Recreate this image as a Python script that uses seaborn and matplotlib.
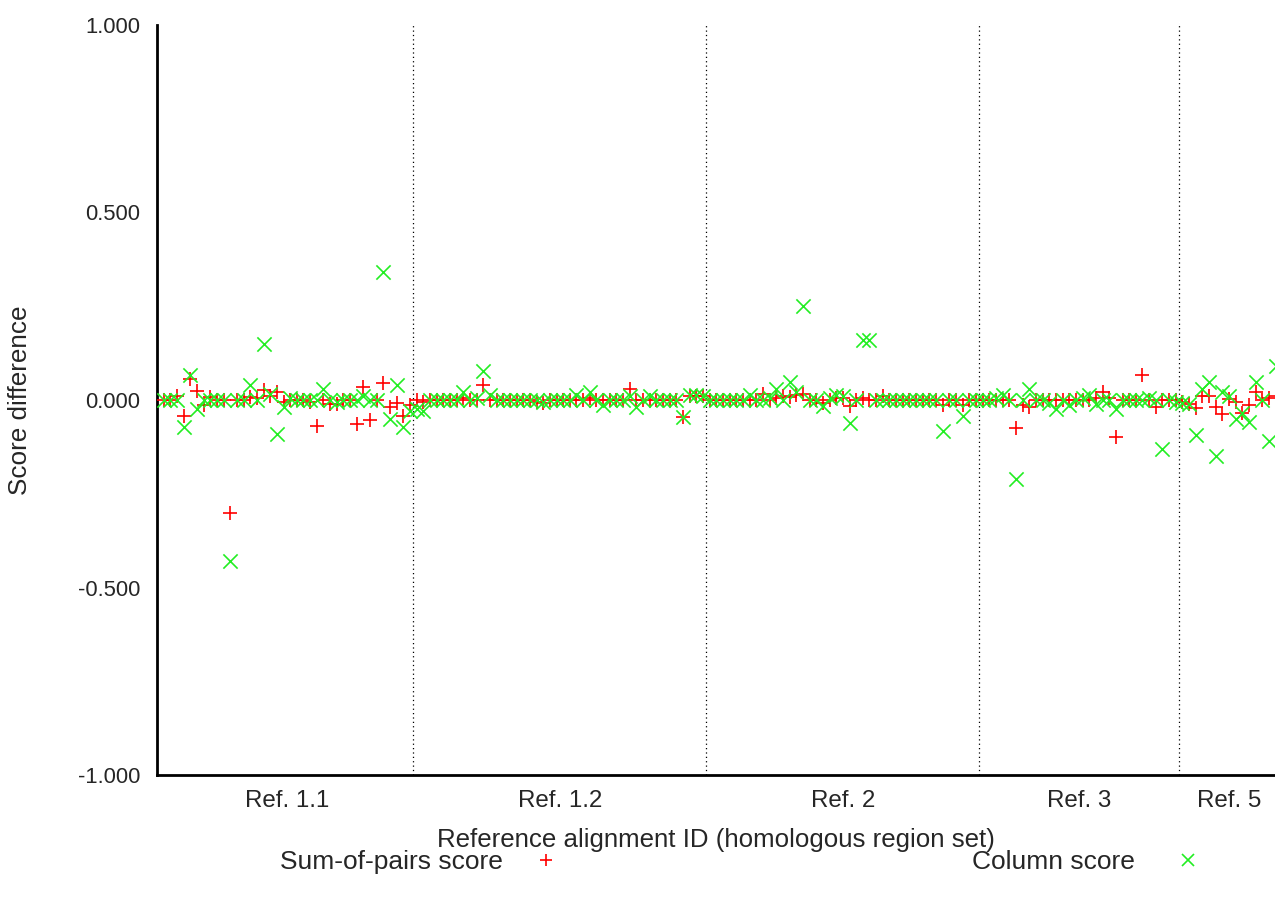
import numpy as np
import pandas as pd
import matplotlib
matplotlib.use("Agg")
import matplotlib.pyplot as plt
import seaborn as sns

# ---- data ----
group_labels = ["Ref. 1.1", "Ref. 1.2", "Ref. 2", "Ref. 3", "Ref. 5"]

sp_ref11 = [0, 0, 0.01, -0.043, 0.056, 0.024, -0.013, 0.008, 0, 0,
            -0.30, 0, 0, 0.008, 0.005, 0.027, 0.01, 0.02, -0.005, 0,
            0, 0, -0.005, -0.069, 0, -0.01, -0.01, 0, 0, -0.064,
            0.035, -0.053, 0, 0.044, -0.02, -0.008, -0.043, -0.013]
cs_ref11 = [0, 0, 0, -0.073, 0.067, -0.024, 0, 0, 0, 0,
            -0.43, 0, 0, 0.04, 0, 0.15, 0.015, -0.09, -0.02, 0.005,
            0, 0, 0, 0, 0.03, 0, -0.005, 0, 0, 0,
            0.01, 0, 0, 0.34, -0.05, 0.04, -0.072, -0.03]

sp_ref12 = [0, -0.005, 0, 0, 0, 0, 0, 0.005, 0, 0,
            0.04, 0, 0, 0, 0, 0, 0, 0, -0.005, -0.008,
            0, 0, 0, 0, 0, 0, 0.005, 0, 0, 0,
            0, 0, 0.03, 0, 0, 0, 0, 0, 0, 0,
            -0.045, 0.01, 0.01, 0.01]
cs_ref12 = [-0.025, -0.03, 0, 0, 0, 0, 0, 0.02, 0, 0.005,
            0.078, 0.013, 0, 0, 0, 0, 0, 0, 0, -0.005,
            0, 0, 0, 0, 0.013, 0, 0.02, 0, -0.013, 0,
            0, 0, 0.01, -0.02, 0, 0.01, 0, 0, 0, 0,
            -0.045, 0.013, 0.013, 0.01]

sp_ref2 = [0, 0, 0, 0, 0, 0, 0, 0, 0.016, 0,
           0.005, 0.01, 0.008, 0.013, 0.015, 0, 0, -0.008, 0, 0.005,
           0.005, -0.016, 0, 0.005, 0, 0, 0.01, 0, 0, 0,
           0, 0, 0, 0, 0, -0.013, 0, 0, -0.013, 0,
           0]
cs_ref2 = [0, 0, 0, 0, 0, 0, 0.013, 0, 0, 0.005,
           0.03, 0, 0.048, 0.02, 0.25, 0, 0, -0.016, 0.005, 0.013,
           0.01, -0.062, 0, 0.16, 0.16, 0, 0, 0, 0, 0,
           0, 0, 0, 0, 0, -0.082, 0, 0, -0.043, 0,
           0]

sp_ref3 = [0, 0, 0, 0, 0, -0.075, -0.013, -0.02, 0, 0,
           0, 0, 0, 0, 0, 0, 0, 0.005, 0.02, 0.005,
           -0.10, 0, 0, 0, 0.067, 0, -0.018, 0, 0, 0]
cs_ref3 = [0, 0, 0.005, 0.013, 0, -0.21, 0, 0.03, 0, 0,
           -0.008, -0.024, 0, -0.013, 0, 0.005, 0.013, -0.01, 0, 0,
           -0.024, 0, 0, 0, 0, 0.005, 0, -0.13, 0, -0.005]

sp_ref5 = [-0.005, -0.01, -0.022, 0.01, 0.01, -0.018, -0.037, 0.003, -0.005, -0.035,
           -0.013, 0.02, 0.0, 0.005, 0.01]
cs_ref5 = [-0.008, -0.01, -0.093, 0.03, 0.048, -0.15, 0.02, 0.01, -0.05, -0.035,
           -0.06, 0.048, 0.0, -0.11, 0.09]

y_ticks = [-1.0, -0.5, 0.0, 0.5, 1.0]

sp_all = sp_ref11 + sp_ref12 + sp_ref2 + sp_ref3 + sp_ref5
cs_all = cs_ref11 + cs_ref12 + cs_ref2 + cs_ref3 + cs_ref5
sizes = [len(sp_ref11), len(sp_ref12), len(sp_ref2), len(sp_ref3), len(sp_ref5)]
xs = np.arange(1, len(sp_all) + 1)

df_sp = pd.DataFrame({"x": xs, "y": sp_all})
df_cs = pd.DataFrame({"x": xs, "y": cs_all})

# ---- style ----
sns.set_theme(style="white")
plt.rcParams["font.family"] = ["Liberation Sans", "DejaVu Sans"]

fig = plt.figure(figsize=(12.75, 9.05), dpi=100)
ax = fig.add_axes([157 / 1275, 130 / 905, (1275 - 157) / 1275, 750 / 905])

red = "#ff0000"
green = "#22ee22"

sns.scatterplot(data=df_sp, x="x", y="y", marker="+", color=red, s=95,
                linewidth=1.2, ax=ax, zorder=3)
sns.scatterplot(data=df_cs, x="x", y="y", marker="x", color=green, s=105,
                linewidth=1.2, ax=ax, zorder=4)

# group boundaries and centers
cum = np.cumsum(sizes)
bounds = cum[:-1] + 0.5
starts = np.concatenate([[1], cum[:-1] + 1])
centers = (starts + cum) / 2.0
for b in bounds:
    ax.axvline(b, color="black", linestyle=(0, (1, 2.5)), linewidth=0.9, zorder=1)

ax.set_xlim(0.0, 167.9)
ax.set_ylim(-1.0, 1.0)
ax.set_xticks(centers)
ax.set_xticklabels(group_labels, fontsize=17.4)
ax.set_yticks(y_ticks)
ax.set_yticklabels([f"{v:.3f}" for v in y_ticks], fontsize=15.8)
ax.tick_params(axis="x", length=0, pad=11)
ax.tick_params(axis="y", length=0, pad=12)

for s in ["top", "right"]:
    ax.spines[s].set_visible(False)
for s in ["left", "bottom"]:
    ax.spines[s].set_color("black")
    ax.spines[s].set_linewidth(2)

ax.set_xlabel("Reference alignment ID (homologous region set)", fontsize=18.6)
ax.set_ylabel("Score difference", fontsize=18.8)
ax.xaxis.set_label_coords(0.5, -(828 - 775) / 750)
ax.yaxis.set_label_coords(-(157 - 32) / 1118, 0.5)

# legends (gnuplot-style: text then sample)
h_sp = plt.Line2D([], [], marker="+", color=red, linestyle="none", markersize=9, markeredgewidth=1.2)
h_cs = plt.Line2D([], [], marker="x", color=green, linestyle="none", markersize=9, markeredgewidth=1.2)
leg_y = 1 - 862 / 905
fig.legend([h_sp], ["Sum-of-pairs score"], loc="center left",
           bbox_to_anchor=(280 / 1275, leg_y), frameon=False, fontsize=19.0,
           markerfirst=False, handlelength=1.0, handletextpad=1.15,
           borderpad=0, borderaxespad=0)
fig.legend([h_cs], ["Column score"], loc="center left",
           bbox_to_anchor=(972 / 1275, leg_y), frameon=False, fontsize=19.0,
           markerfirst=False, handlelength=1.0, handletextpad=1.5,
           borderpad=0, borderaxespad=0)

fig.savefig("out.png", dpi=100)
